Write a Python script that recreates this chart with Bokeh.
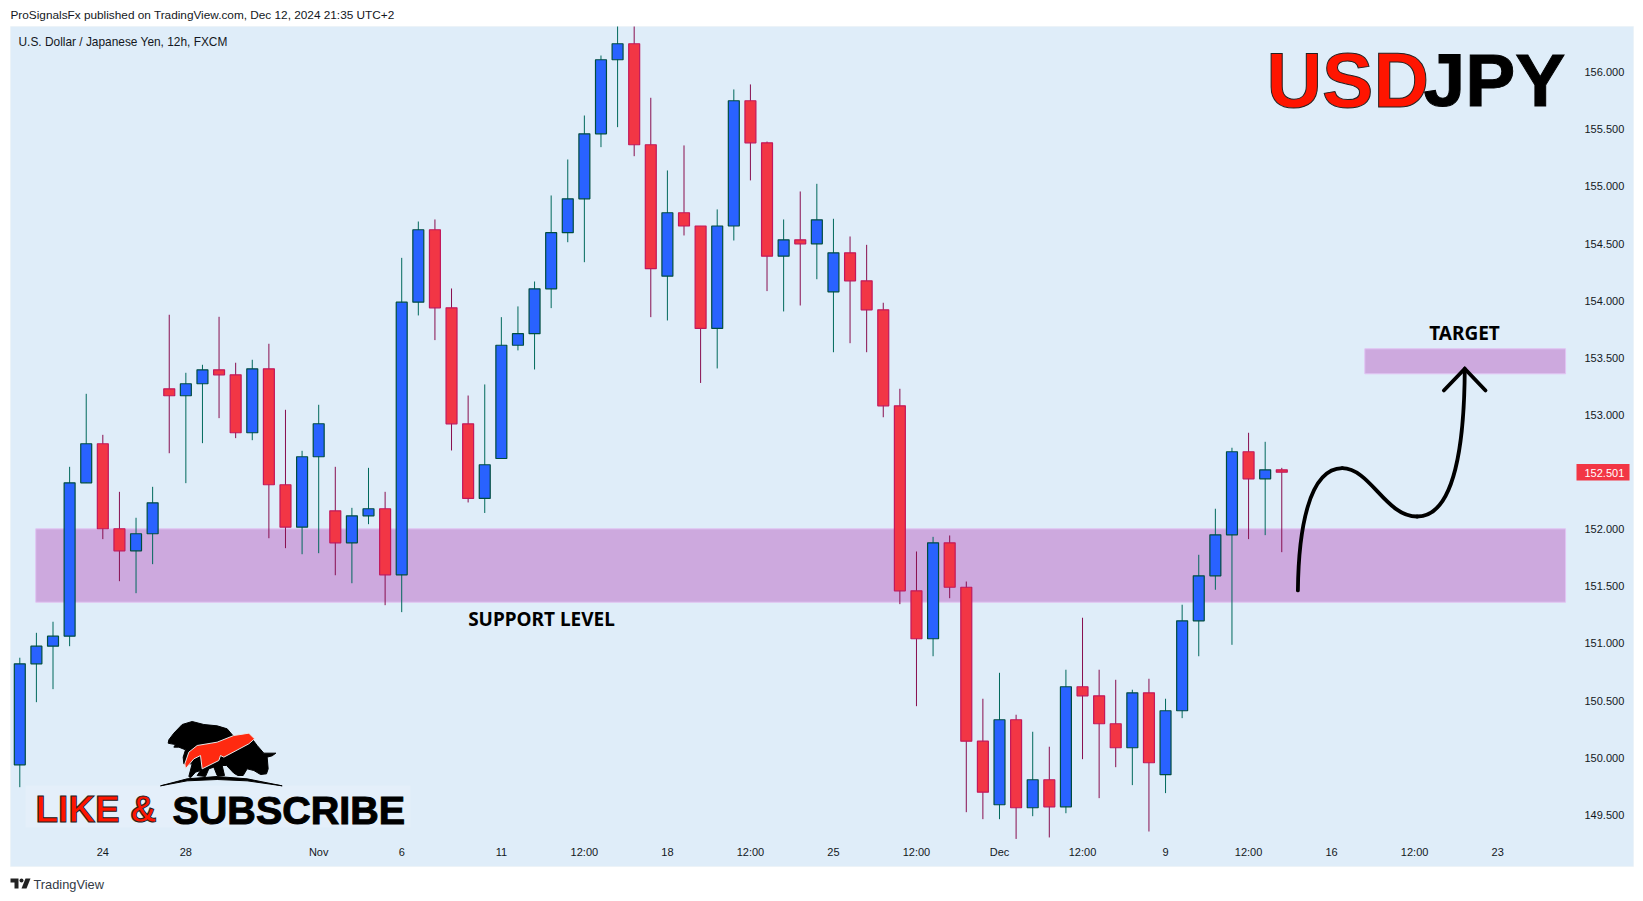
from bokeh.plotting import figure
from bokeh.models import Range1d, FixedTicker, NumeralTickFormatter, Label, BoxAnnotation, ColumnDataSource
from bokeh.embed import file_html
from bokeh.resources import INLINE

# ---- data: 12h USD/JPY candles
opens = [149.938,150.822,150.976,151.064,152.406,152.748,152.004,151.811,151.960,153.229,
         153.168,153.273,153.395,153.351,152.844,153.404,152.389,152.018,152.634,152.161,
         151.881,152.117,152.179,151.601,153.987,154.621,153.938,152.922,152.269,152.619,
         153.610,153.711,154.104,154.595,154.892,155.461,156.109,156.249,155.365,154.215,
         154.770,154.654,153.757,154.654,155.750,155.382,154.390,154.533,154.498,154.078,
         154.419,154.174,153.920,153.080,151.461,151.041,151.881,151.492,150.145,149.588,
         150.332,149.562,149.807,149.570,150.621,150.542,150.297,150.087,150.568,149.851,
         150.411,151.198,151.592,151.951,152.678,152.441,152.520]
highs = [150.875,151.093,151.190,152.546,153.185,152.826,152.327,152.100,152.371,153.877,
         153.369,153.439,153.859,153.457,153.483,153.623,153.045,152.686,153.089,152.546,
         152.187,152.537,152.327,154.375,154.693,154.711,154.107,153.170,153.267,153.856,
         153.950,154.168,154.921,155.236,155.621,156.146,156.400,156.400,155.776,155.140,
         155.359,154.654,154.799,155.849,155.893,155.393,154.711,154.956,155.023,154.717,
         154.562,154.489,153.982,153.229,151.805,151.933,151.945,151.542,150.516,150.743,
         150.376,150.227,150.096,150.770,151.225,150.770,150.682,150.595,150.691,150.516,
         151.339,151.776,152.179,152.713,152.844,152.765,152.537]
lows = [149.742,150.486,150.600,150.976,152.406,151.913,151.545,151.440,151.694,152.665,
        152.403,152.753,152.972,152.797,152.779,151.921,151.834,151.781,151.790,151.597,
        151.527,152.044,151.335,151.274,153.871,153.655,152.689,152.234,152.142,152.619,
        153.565,153.398,153.935,154.512,154.337,155.344,155.519,155.265,153.856,153.827,
        154.571,153.280,153.407,154.527,155.053,154.084,153.906,153.958,154.188,153.549,
        153.628,153.549,152.980,151.344,150.451,150.888,151.396,149.523,149.462,149.462,
        149.289,149.488,149.302,149.514,149.987,149.646,149.917,149.760,149.354,149.690,
        150.346,150.888,151.470,150.988,151.913,151.948,151.799]
closes = [150.822,150.976,151.064,152.406,152.748,152.004,151.811,151.960,152.231,153.168,
          153.273,153.395,153.351,152.844,153.404,152.389,152.018,152.634,152.923,151.881,
          152.117,152.179,151.601,153.987,154.621,153.938,152.922,152.269,152.564,153.610,
          153.711,154.104,154.595,154.892,155.461,156.109,156.249,155.365,154.280,154.770,
          154.654,153.757,154.654,155.750,155.382,154.390,154.533,154.498,154.708,154.419,
          154.174,153.920,153.080,151.461,151.041,151.881,151.492,150.145,149.698,150.332,
          149.562,149.807,149.570,150.621,150.542,150.297,150.087,150.568,149.956,150.411,
          151.198,151.592,151.951,152.678,152.441,152.520,152.499]

price_ticks = [149.5,150.0,150.5,151.0,151.5,152.0,153.0,153.5,154.0,154.5,155.0,155.5,156.0]
time_tick_bars = [5,10,18,23,29,34,39,44,49,54,59,64,69,74,79,84,89]
time_tick_labels = ["24","28","Nov","6","11","12:00","18","12:00","25","12:00","Dec","12:00","9","12:00","16","12:00","23"]

support_zone = (151.361, 152.003)
target_zone = (153.360, 153.579)
zone_end_bar = 93.09
support_start_bar = 0.96
target_start_bar = 81.0
last_price = 152.501

# hand-drawn forecast path, three cubic pieces (bar, price)
path_x0 = [76.97, 79.64, 84.15]; path_y0 = [151.464, 152.534, 152.111]
path_x1 = [79.64, 84.15, 87.02]; path_y1 = [152.534, 152.111, 153.404]
path_cx0 = [77.01, 81.34, 86.46]; path_cy0 = [151.989, 152.531, 152.111]
path_cx1 = [77.61, 82.25, 87.00]; path_cy1 = [152.531, 152.111, 152.777]
head_bars = [85.76,87.02,88.27]
head_prices = [153.214,153.404,153.214]

# ---- view
W, H = 1640, 898
PANEL = "#DFEDF9"
X0, DX = 19.3, 16.605      # picture px of bar 0, px per bar
Y0, DY = 71.7, 114.25      # picture px of 156.000, px per unit
def bx(px): return (px - X0) / DX
def pr(py): return 156.0 - (py - Y0) / DY

p = figure(width=W, height=H, output_backend="svg", toolbar_location=None,
           x_range=Range1d(bx(0), bx(W)), y_range=Range1d(pr(H), pr(0)),
           y_axis_location="right", min_border_left=0, min_border_right=0,
           min_border_top=0, min_border_bottom=0,
           border_fill_color="white", background_fill_color="white", outline_line_color=None)
p.grid.visible = False

p.add_layout(BoxAnnotation(left=bx(10), right=bx(1633), top=pr(26), bottom=pr(866),
                           fill_color=PANEL, fill_alpha=1, line_color="#E6EAF0", line_width=1, level="underlay"))

ya = p.yaxis[0]
ya.ticker = FixedTicker(ticks=price_ticks)
ya.formatter = NumeralTickFormatter(format="0.000")
ya.axis_line_color = None; ya.major_tick_line_color = None; ya.minor_tick_line_color = None
ya.major_tick_out = 0; ya.major_tick_in = 0; ya.minor_tick_out = 0; ya.minor_tick_in = 0
ya.major_label_standoff = 1584 - W
ya.major_label_text_font = "Liberation Sans"; ya.major_label_text_font_size = "11px"; ya.major_label_text_color = "#131722"

xa = p.xaxis[0]
xa.ticker = FixedTicker(ticks=time_tick_bars)
xa.major_label_overrides = {b: l for b, l in zip(time_tick_bars, time_tick_labels)}
xa.axis_line_color = None; xa.major_tick_line_color = None; xa.minor_tick_line_color = None
xa.major_tick_out = 0; xa.major_tick_in = 0; xa.minor_tick_out = 0; xa.minor_tick_in = 0
xa.major_label_standoff = 845 - H
xa.major_label_text_font = "Liberation Sans"; xa.major_label_text_font_size = "11px"; xa.major_label_text_color = "#131722"

# zones
for (lo, hi), start in ((support_zone, support_start_bar), (target_zone, target_start_bar)):
    p.quad(left=start, right=zone_end_bar, bottom=lo, top=hi, fill_color="#CDA9DE", line_color="#E1C4F3", line_width=1)

# candles
idx = list(range(len(opens)))
up = [i for i in idx if closes[i] >= opens[i]]
dn = [i for i in idx if closes[i] < opens[i]]
def src(ids):
    return ColumnDataSource(dict(x=ids, h=[highs[i] for i in ids], l=[lows[i] for i in ids],
                                 t=[max(opens[i], closes[i]) for i in ids], b=[min(opens[i], closes[i]) for i in ids]))
for ids, wick, edge, fill in ((up, "#00695C", "#004D40", "#2962FF"), (dn, "#880E4F", "#C2185B", "#F23645")):
    s = src(ids)
    p.segment(x0="x", x1="x", y0="l", y1="h", source=s, line_color=wick, line_width=1)
    p.vbar(x="x", width=0.66, top="t", bottom="b", source=s, fill_color=fill, line_color=edge, line_width=1.2)

# drawn path
p.bezier(x0=path_x0, y0=path_y0, x1=path_x1, y1=path_y1, cx0=path_cx0, cy0=path_cy0, cx1=path_cx1, cy1=path_cy1,
         line_color="black", line_width=3.8, line_cap="round")
p.line(head_bars, head_prices, line_color="black", line_width=3.8, line_join="miter", line_cap="round")

def label(text, px, py, size, font="Liberation Sans", color="#131722", style="normal", align="left", baseline="middle", outline=None):
    kw = dict(text_outline_color=outline) if outline else {}
    p.add_layout(Label(x=bx(px), y=pr(py), text=text, text_font=font, text_font_size=size, text_color=color,
                       text_font_style=style, text_align=align, text_baseline=baseline, **kw))

label("ProSignalsFx published on TradingView.com, Dec 12, 2024 21:35 UTC+2", 10, 14.5, "11.8px")
label("U.S. Dollar / Japanese Yen, 12h, FXCM", 18, 41, "11.9px")
label("TradingView", 33, 884, "12.8px", color="#333a45")
label("SUPPORT LEVEL", 541, 618, "19px", font="Noto Sans", color="black", style="bold", align="center")
label("TARGET", 1464, 332, "19px", font="Noto Sans", color="black", style="bold", align="center")
label("USD", 1266, 79, "77px", color="#FF1500", style="bold", baseline="alphabetic", outline="#222222")
label("JPY", 1423, 79, "75px", color="black", style="bold", baseline="alphabetic", outline="black")

# last-price tag
p.add_layout(BoxAnnotation(left=bx(1576), right=bx(1629), top=pr(463.5), bottom=pr(480),
                           fill_color="#F23645", fill_alpha=1, line_color=None))
label("%.3f" % last_price, 1584, 472, "11px", color="white")

# like & subscribe emblem
p.add_layout(BoxAnnotation(left=bx(25), right=bx(410), top=pr(785), bottom=pr(827),
                           fill_color="#E4EFFA", fill_alpha=1, line_color=None, level="underlay"))
def zx(v): return [bx(a / 3) for a in v]
def zy(v): return [pr(600 + a / 3) for a in v]
bull_x = [503,505,520,545,575,610,650,680,697,755,770,790,826,815,800,803,798,780,760,740,728,712,700,678,665,672,650,640,625,615,590,600,585,570,565,575,550,548,555,535,520,525,512]
bull_y = [428,418,398,372,363,372,376,385,405,415,435,458,458,466,470,505,520,522,510,505,525,525,518,495,495,525,525,500,505,528,525,510,515,532,528,490,490,470,448,440,440,432,430]
arc_x = [480,560,650,740,845,740,650,560]
arc_y = [556,535,528,535,556,541,537,541]
flame_x = [553,565,590,650,700,745,762,745,670,660,655,605,600,580,555]
flame_y = [490,455,435,425,405,398,415,430,470,465,480,505,465,475,505]
p.patch(zx(bull_x), zy(bull_y), fill_color="black", line_color="black")
p.patch(zx(arc_x), zy(arc_y), fill_color="black", line_color="black")
p.patch(zx(flame_x), zy(flame_y), fill_color="#FF2A10", line_color="#E8E8E8")
label("LIKE &", 35, 809, "37px", color="#FF1500", style="bold", baseline="alphabetic", outline="#222222")
label("SUBSCRIBE", 172, 809, "39.5px", color="black", style="bold", baseline="alphabetic", outline="black")

# TradingView mark
p.patch([bx(v) for v in (10,18,18,14,14,10)], [pr(v) for v in (878,878,888,888,882,882)], fill_color="#222", line_color=None)
p.patch([bx(v) for v in (25,30,26,21)], [pr(v) for v in (878,878,888,888)], fill_color="#222", line_color=None)
p.scatter([bx(21)], [pr(880)], size=4, fill_color="#222", line_color=None)

open("out.html", "w").write(file_html(p, INLINE))
